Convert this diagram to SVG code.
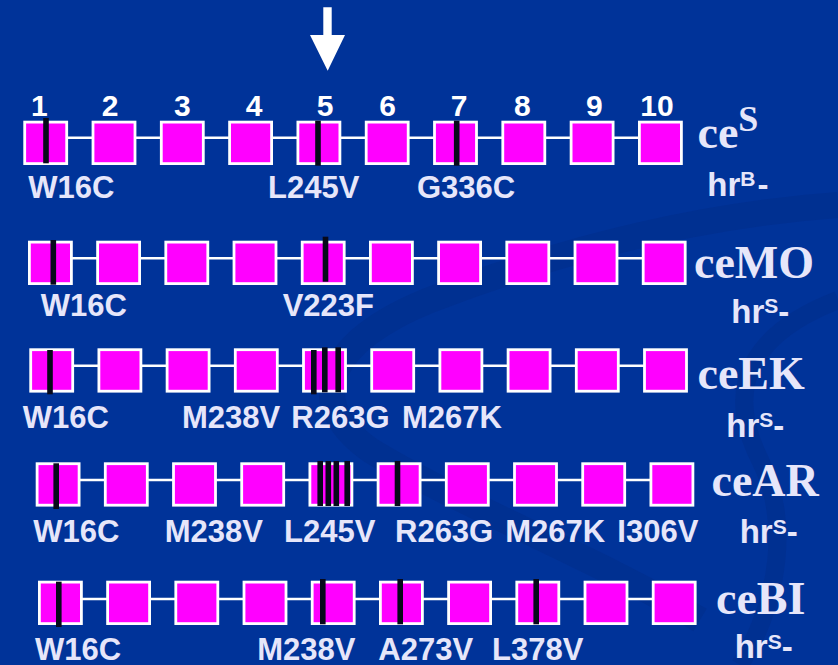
<svg xmlns="http://www.w3.org/2000/svg" width="838" height="665" viewBox="0 0 838 665">
<style>
.bg{fill:#003399}
.sw{fill:none;stroke:#002c88;stroke-opacity:0.45}
.ex{fill:#ff00ff;stroke:#ffffff;stroke-width:2.8}
.bar{fill:#07091a}
.con{fill:none;stroke:#ffffff;stroke-width:2.4}
.num{font-family:"Liberation Sans",Arial,sans-serif;font-weight:bold;font-size:30px;fill:#ffffff;text-anchor:middle}
.mut{font-family:"Liberation Sans",Arial,sans-serif;font-weight:bold;font-size:31px;fill:#e6e6fa}
.ce{font-family:"Liberation Serif","Times New Roman",serif;font-weight:bold;font-size:46px;fill:#e6e6fa}
.hr{font-family:"Liberation Sans",Arial,sans-serif;font-weight:bold;font-size:33px;fill:#e6e6fa}
.sup{font-size:21px}
</style>
<rect class="bg" x="0" y="0" width="838" height="665"/>
<path class="sw" stroke-width="26" d="M838 205 C700 215 560 250 430 300 C330 340 300 400 370 450 C450 500 600 560 700 620"/>
<path class="sw" stroke-width="18" d="M838 300 C760 330 720 380 760 460 C790 520 780 600 740 665"/>

<g id="arrow"><polygon fill="#ffffff" points="323.3,7.3 331.7,7.3 331.7,35 345,35 327.7,70.7 310,35 323.3,35"/></g>

<g id="connectors">
<path class="con" d="M66.7 137.7H93M135 137.7H161.3M203.3 137.7H229.6M271.6 137.7H297.9M339.9 137.7H366.2M408.2 137.7H434.5M476.5 137.7H502.8M544.8 137.7H571.1M613.1 137.7H639.4"/>
<path class="con" d="M71.4 258.3H97.6M139.6 258.3H165.8M207.8 258.3H234M276 258.3H302.2M344.2 258.3H370.4M412.4 258.3H438.6M480.6 258.3H506.8M548.8 258.3H575M617 258.3H643.2"/>
<path class="con" d="M72.7 365.7H98.9M140.9 365.7H167.1M209.1 365.7H235.3M277.3 365.7H303.5M345.5 365.7H371.7M413.7 365.7H439.9M481.9 365.7H508.1M550.1 365.7H576.3M618.3 365.7H644.5"/>
<path class="con" d="M79.1 480H105.3M147.3 480H173.5M215.5 480H241.7M283.7 480H309.9M351.9 480H378.1M420.1 480H446.3M488.3 480H514.5M556.5 480H582.7M624.7 480H650.9"/>
<path class="con" d="M81.4 599H107.6M149.6 599H175.8M217.8 599H244M286 599H312.2M354.2 599H380.4M422.4 599H448.6M490.6 599H516.8M558.8 599H585M627 599H653.2"/>
</g>

<g id="exon-numbers">
<text class="num" x="39.3" y="116">1</text>
<text class="num" x="110" y="116">2</text>
<text class="num" x="182.3" y="116">3</text>
<text class="num" x="254" y="116">4</text>
<text class="num" x="325" y="116">5</text>
<text class="num" x="387.7" y="116">6</text>
<text class="num" x="459" y="116">7</text>
<text class="num" x="522.3" y="116">8</text>
<text class="num" x="594.3" y="116">9</text>
<text class="num" x="657" y="116">10</text>
</g>

<!-- Row 1: ceS -->
<g id="ceS-e1"><rect class="ex" x="24.7" y="122.1" width="42" height="41.5"/><rect class="bar" x="43.2" y="118" width="5.6" height="45.3"/></g>
<g id="ceS-e2"><rect class="ex" x="93" y="122.1" width="42" height="41.5"/></g>
<g id="ceS-e3"><rect class="ex" x="161.3" y="122.1" width="42" height="41.5"/></g>
<g id="ceS-e4"><rect class="ex" x="229.6" y="122.1" width="42" height="41.5"/></g>
<g id="ceS-e5"><rect class="ex" x="297.9" y="122.1" width="42" height="41.5"/><rect class="bar" x="315.2" y="120.7" width="5.6" height="45"/></g>
<g id="ceS-e6"><rect class="ex" x="366.2" y="122.1" width="42" height="41.5"/></g>
<g id="ceS-e7"><rect class="ex" x="434.5" y="122.1" width="42" height="41.5"/><rect class="bar" x="453.9" y="120.7" width="5.6" height="45"/></g>
<g id="ceS-e8"><rect class="ex" x="502.8" y="122.1" width="42" height="41.5"/></g>
<g id="ceS-e9"><rect class="ex" x="571.1" y="122.1" width="42" height="41.5"/></g>
<g id="ceS-e10"><rect class="ex" x="639.4" y="122.1" width="42" height="41.5"/></g>
<g id="ceS-labels">
<text class="mut" x="28.3" y="198.3">W16C</text>
<text class="mut" x="268" y="198.3">L245V</text>
<text class="mut" x="417" y="198.3">G336C</text>
<text class="ce" x="697.5" y="147.7">ce<tspan font-size="36px" dy="-16.7">S</tspan></text>
<text class="hr" x="707.3" y="195.5">hr<tspan class="sup" dy="-9.5">B</tspan><tspan dx="2" dy="9.5">-</tspan></text>
</g>

<!-- Row 2: ceMO -->
<g id="ceMO-e1"><rect class="ex" x="29.4" y="242.1" width="42" height="41.5"/><rect class="bar" x="50.5" y="240" width="5.6" height="44.7"/></g>
<g id="ceMO-e2"><rect class="ex" x="97.6" y="242.1" width="42" height="41.5"/></g>
<g id="ceMO-e3"><rect class="ex" x="165.8" y="242.1" width="42" height="41.5"/></g>
<g id="ceMO-e4"><rect class="ex" x="234" y="242.1" width="42" height="41.5"/></g>
<g id="ceMO-e5"><rect class="ex" x="302.2" y="242.1" width="42" height="41.5"/><rect class="bar" x="322.7" y="236.7" width="5.6" height="45"/></g>
<g id="ceMO-e6"><rect class="ex" x="370.4" y="242.1" width="42" height="41.5"/></g>
<g id="ceMO-e7"><rect class="ex" x="438.6" y="242.1" width="42" height="41.5"/></g>
<g id="ceMO-e8"><rect class="ex" x="506.8" y="242.1" width="42" height="41.5"/></g>
<g id="ceMO-e9"><rect class="ex" x="575" y="242.1" width="42" height="41.5"/></g>
<g id="ceMO-e10"><rect class="ex" x="643.2" y="242.1" width="42" height="41.5"/></g>
<g id="ceMO-labels">
<text class="mut" x="40.7" y="316">W16C</text>
<text class="mut" x="282.7" y="316">V223F</text>
<text class="ce" x="694" y="278.3">ceMO</text>
<text class="hr" x="731.3" y="322.5">hr<tspan class="sup" dy="-9.5">S</tspan><tspan dy="9.5">-</tspan></text>
</g>

<!-- Row 3: ceEK -->
<g id="ceEK-e1"><rect class="ex" x="30.7" y="349.7" width="42" height="41.5"/><rect class="bar" x="47.2" y="350" width="5.6" height="44.3"/></g>
<g id="ceEK-e2"><rect class="ex" x="98.9" y="349.7" width="42" height="41.5"/></g>
<g id="ceEK-e3"><rect class="ex" x="167.1" y="349.7" width="42" height="41.5"/></g>
<g id="ceEK-e4"><rect class="ex" x="235.3" y="349.7" width="42" height="41.5"/></g>
<g id="ceEK-e5"><rect class="ex" x="303.5" y="349.7" width="42" height="41.5"/><rect class="bar" x="311" y="350" width="5.6" height="44.3"/><rect class="bar" x="322" y="347.3" width="5.6" height="45"/><rect class="bar" x="335.4" y="347.3" width="5.6" height="45"/></g>
<g id="ceEK-e6"><rect class="ex" x="371.7" y="349.7" width="42" height="41.5"/></g>
<g id="ceEK-e7"><rect class="ex" x="439.9" y="349.7" width="42" height="41.5"/></g>
<g id="ceEK-e8"><rect class="ex" x="508.1" y="349.7" width="42" height="41.5"/></g>
<g id="ceEK-e9"><rect class="ex" x="576.3" y="349.7" width="42" height="41.5"/></g>
<g id="ceEK-e10"><rect class="ex" x="644.5" y="349.7" width="42" height="41.5"/></g>
<g id="ceEK-labels">
<text class="mut" x="22.7" y="428.3">W16C</text>
<text class="mut" x="182" y="428.3">M238V</text>
<text class="mut" x="291.3" y="428.3">R263G</text>
<text class="mut" x="402" y="428.3">M267K</text>
<text class="ce" x="697.5" y="389.3">ceEK</text>
<text class="hr" x="726.3" y="436.5">hr<tspan class="sup" dy="-9.5">S</tspan><tspan dy="9.5">-</tspan></text>
</g>

<!-- Row 4: ceAR -->
<g id="ceAR-e1"><rect class="ex" x="37.1" y="463.7" width="42" height="41.5"/><rect class="bar" x="53.4" y="463.3" width="5.6" height="45.7"/></g>
<g id="ceAR-e2"><rect class="ex" x="105.3" y="463.7" width="42" height="41.5"/></g>
<g id="ceAR-e3"><rect class="ex" x="173.5" y="463.7" width="42" height="41.5"/></g>
<g id="ceAR-e4"><rect class="ex" x="241.7" y="463.7" width="42" height="41.5"/></g>
<g id="ceAR-e5"><rect class="ex" x="309.9" y="463.7" width="42" height="41.5"/><rect class="bar" x="317.4" y="461" width="5.6" height="45"/><rect class="bar" x="325.5" y="461" width="5.6" height="45"/><rect class="bar" x="333.5" y="461" width="5.6" height="45"/><rect class="bar" x="344.4" y="461" width="5.6" height="45"/></g>
<g id="ceAR-e6"><rect class="ex" x="378.1" y="463.7" width="42" height="41.5"/><rect class="bar" x="394.7" y="461" width="5.6" height="45"/></g>
<g id="ceAR-e7"><rect class="ex" x="446.3" y="463.7" width="42" height="41.5"/></g>
<g id="ceAR-e8"><rect class="ex" x="514.5" y="463.7" width="42" height="41.5"/></g>
<g id="ceAR-e9"><rect class="ex" x="582.7" y="463.7" width="42" height="41.5"/></g>
<g id="ceAR-e10"><rect class="ex" x="650.9" y="463.7" width="42" height="41.5"/></g>
<g id="ceAR-labels">
<text class="mut" x="33.3" y="542.3">W16C</text>
<text class="mut" x="164.7" y="542.3">M238V</text>
<text class="mut" x="284" y="542.3">L245V</text>
<text class="mut" x="395" y="542.3">R263G</text>
<text class="mut" x="505.3" y="542.3">M267K</text>
<text class="mut" x="617.3" y="542.3">I306V</text>
<text class="ce" x="711.5" y="495.7">ceAR</text>
<text class="hr" x="739.7" y="543">hr<tspan class="sup" dy="-9.5">S</tspan><tspan dy="9.5">-</tspan></text>
</g>

<!-- Row 5: ceBI -->
<g id="ceBI-e1"><rect class="ex" x="39.4" y="582.1" width="42" height="41.5"/><rect class="bar" x="56" y="581.7" width="5.6" height="45.3"/></g>
<g id="ceBI-e2"><rect class="ex" x="107.6" y="582.1" width="42" height="41.5"/></g>
<g id="ceBI-e3"><rect class="ex" x="175.8" y="582.1" width="42" height="41.5"/></g>
<g id="ceBI-e4"><rect class="ex" x="244" y="582.1" width="42" height="41.5"/></g>
<g id="ceBI-e5"><rect class="ex" x="312.2" y="582.1" width="42" height="41.5"/><rect class="bar" x="320" y="579" width="5.6" height="45.3"/></g>
<g id="ceBI-e6"><rect class="ex" x="380.4" y="582.1" width="42" height="41.5"/><rect class="bar" x="397.4" y="579" width="5.6" height="45.3"/></g>
<g id="ceBI-e7"><rect class="ex" x="448.6" y="582.1" width="42" height="41.5"/></g>
<g id="ceBI-e8"><rect class="ex" x="516.8" y="582.1" width="42" height="41.5"/><rect class="bar" x="533.4" y="579" width="5.6" height="45.3"/></g>
<g id="ceBI-e9"><rect class="ex" x="585" y="582.1" width="42" height="41.5"/></g>
<g id="ceBI-e10"><rect class="ex" x="653.2" y="582.1" width="42" height="41.5"/></g>
<g id="ceBI-labels">
<text class="mut" x="35" y="659.5">W16C</text>
<text class="mut" x="257.3" y="659.5">M238V</text>
<text class="mut" x="378.3" y="659.5">A273V</text>
<text class="mut" x="492" y="659.5">L378V</text>
<text class="ce" x="716" y="614">ceBI</text>
<text class="hr" x="734.7" y="658">hr<tspan class="sup" dy="-9.5">S</tspan><tspan dy="9.5">-</tspan></text>
</g>
</svg>
